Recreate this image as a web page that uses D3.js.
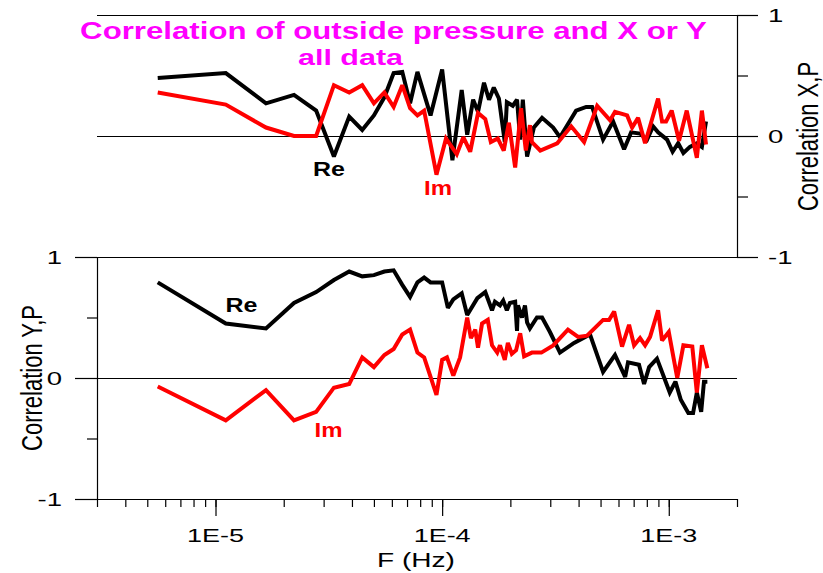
<!DOCTYPE html>
<html>
<head>
<meta charset="utf-8">
<script src="https://cdn.jsdelivr.net/npm/d3@7"></script>
<style>
  html, body { margin: 0; padding: 0; background: #fff; }
  svg { display: block; }
</style>
</head>
<body>
<svg id="chart" width="823" height="573"></svg>
<script>
// ---- Coherence spectra: outside pressure vs. X (top) and Y (bottom) ----
// Frequencies in Hz, correlation values (real and imaginary parts).

const xReFreq = [5.56e-6,1.11e-5,1.67e-5,2.22e-5,2.78e-5,3.33e-5,3.89e-5,4.44e-5,5.00e-5,5.56e-5,
  6.11e-5,6.67e-5,7.22e-5,7.78e-5,8.89e-5,1.00e-4,1.11e-4,1.22e-4,1.29e-4,1.37e-4,
  1.44e-4,1.53e-4,1.61e-4,1.69e-4,1.78e-4,1.89e-4,1.93e-4,2.05e-4,2.14e-4,2.21e-4,
  2.27e-4,2.37e-4,2.54e-4,2.76e-4,3.09e-4,3.31e-4,3.90e-4,4.32e-4,4.59e-4,5.13e-4,
  5.68e-4,6.35e-4,6.82e-4,7.47e-4,8.02e-4,8.52e-4,8.97e-4,9.83e-4,1.04e-3,1.10e-3,
  1.16e-3,1.24e-3,1.33e-3,1.40e-3,1.46e-3];
const xReVal = [0.48,0.52,0.27,0.34,0.21,-0.17,0.16,0.05,0.17,0.32,
  0.52,0.53,0.27,0.53,0.17,0.55,-0.20,0.38,0.01,0.30,
  0.20,0.44,0.30,0.40,0.31,-0.05,0.28,0.25,0.30,-0.03,
  0.30,-0.17,0.07,0.15,0.07,-0.01,0.21,0.24,0.24,-0.03,
  0.12,-0.11,0.03,0.02,-0.03,0.08,0.03,-0.03,-0.13,-0.06,
  -0.14,-0.09,-0.06,-0.09,0.12];

const xImFreq = [5.56e-6,1.11e-5,1.67e-5,2.22e-5,2.78e-5,3.33e-5,3.89e-5,4.44e-5,5.00e-5,5.56e-5,
  6.11e-5,6.67e-5,7.22e-5,7.78e-5,8.33e-5,9.44e-5,1.04e-4,1.16e-4,1.24e-4,1.33e-4,
  1.44e-4,1.55e-4,1.64e-4,1.76e-4,1.87e-4,1.97e-4,2.10e-4,2.23e-4,2.34e-4,2.44e-4,
  2.49e-4,2.71e-4,3.22e-4,3.71e-4,4.23e-4,4.83e-4,5.51e-4,5.79e-4,6.55e-4,6.89e-4,
  7.32e-4,7.86e-4,8.97e-4,9.34e-4,9.73e-4,1.03e-3,1.11e-3,1.20e-3,1.33e-3,1.40e-3,
  1.46e-3];
const xImVal = [0.36,0.26,0.07,0.00,0.00,0.42,0.36,0.42,0.27,0.36,
  0.24,0.42,0.23,0.17,0.21,-0.32,-0.02,-0.15,-0.01,-0.13,
  0.19,0.14,-0.05,-0.02,-0.12,0.11,-0.26,0.23,-0.12,0.09,
  -0.05,-0.12,-0.06,0.08,-0.05,0.25,0.13,0.20,0.17,0.07,
  0.15,-0.06,0.31,0.12,0.12,0.21,-0.04,0.21,-0.18,0.21,
  -0.07];

const yReFreq = [5.56e-6,1.11e-5,1.67e-5,2.22e-5,2.78e-5,3.33e-5,3.89e-5,4.44e-5,5.00e-5,5.56e-5,
  6.11e-5,6.67e-5,7.22e-5,7.78e-5,8.33e-5,8.89e-5,1.00e-4,1.06e-4,1.12e-4,1.22e-4,
  1.29e-4,1.43e-4,1.55e-4,1.66e-4,1.71e-4,1.80e-4,1.86e-4,1.93e-4,1.99e-4,2.10e-4,
  2.14e-4,2.16e-4,2.25e-4,2.32e-4,2.37e-4,2.44e-4,2.62e-4,2.76e-4,2.99e-4,3.31e-4,
  3.82e-4,4.49e-4,5.13e-4,5.79e-4,6.42e-4,6.61e-4,7.39e-4,7.78e-4,8.19e-4,8.87e-4,
  1.01e-3,1.07e-3,1.13e-3,1.22e-3,1.28e-3,1.33e-3,1.39e-3,1.43e-3,1.48e-3];
const yReVal = [0.79,0.45,0.41,0.62,0.71,0.81,0.88,0.84,0.85,0.88,
  0.89,0.77,0.67,0.79,0.83,0.79,0.79,0.58,0.65,0.70,
  0.52,0.66,0.71,0.56,0.63,0.60,0.64,0.56,0.62,0.63,
  0.39,0.60,0.50,0.60,0.46,0.41,0.50,0.50,0.38,0.21,
  0.29,0.36,0.05,0.19,0.01,0.13,0.11,-0.05,0.09,0.16,
  -0.12,-0.03,-0.18,-0.29,-0.29,-0.12,-0.28,-0.03,-0.03];

const yImFreq = [5.56e-6,1.11e-5,1.67e-5,2.22e-5,2.78e-5,3.33e-5,3.89e-5,4.44e-5,5.00e-5,5.56e-5,
  6.11e-5,6.67e-5,7.22e-5,7.78e-5,8.33e-5,9.44e-5,1.00e-4,1.05e-4,1.12e-4,1.20e-4,
  1.29e-4,1.34e-4,1.40e-4,1.44e-4,1.50e-4,1.59e-4,1.66e-4,1.75e-4,1.80e-4,1.89e-4,
  1.95e-4,2.03e-4,2.12e-4,2.21e-4,2.30e-4,2.49e-4,2.74e-4,3.09e-4,3.59e-4,3.98e-4,
  4.36e-4,5.13e-4,5.45e-4,5.74e-4,6.22e-4,6.68e-4,7.03e-4,7.47e-4,7.86e-4,8.27e-4,
  8.97e-4,9.34e-4,1.00e-3,1.09e-3,1.16e-3,1.27e-3,1.33e-3,1.40e-3,1.48e-3];
const yImVal = [-0.07,-0.35,-0.10,-0.35,-0.28,-0.08,-0.05,0.17,0.09,0.19,
  0.24,0.36,0.40,0.21,0.17,-0.14,0.15,0.17,0.02,0.17,
  0.50,0.33,0.40,0.25,0.45,0.48,0.27,0.21,0.27,0.15,
  0.29,0.20,0.23,0.37,0.18,0.21,0.21,0.27,0.40,0.34,
  0.35,0.48,0.48,0.55,0.26,0.44,0.27,0.33,0.27,0.34,
  0.56,0.31,0.38,0.00,0.27,0.26,-0.12,0.27,0.08];

// Axis ticks and labels
const xMajorTicks = [1e-5, 1e-4, 1e-3];
const xTickLabels = ["1E-5", "1E-4", "1E-3"];
const yMajorTicks = [-1, 0, 1];
const yMinorTicks = [-0.5, 0.5];
const yTickLabels = ["-1", "0", "1"];

const titleLine1 = "Correlation of outside pressure and X or Y";
const titleLine2 = "all data";
const xAxisTitle = "F (Hz)";
const topAxisTitle = "Correlation X,P";
const bottomAxisTitle = "Correlation Y,P";

// ---- layout ----
const FONT = "'Liberation Sans', Arial, Helvetica, sans-serif";
const RED = "#ff0000";
const MAGENTA = "#ff00ff";

const svg = d3.select("#chart");

const x = d3.scaleLog().domain([3e-6, 2e-3]).range([97, 737]);
const yTop = d3.scaleLinear().domain([-1, 1]).range([257, 15]);
const yBot = d3.scaleLinear().domain([-1, 1]).range([499, 257]);

// minor ticks on the log axis: every integer multiple within the domain
const xMinorTicks = [];
for (const dec of [1e-6, 1e-5, 1e-4, 1e-3]) {
  for (let m = 1; m <= 9; m++) {
    const v = +(m * dec).toPrecision(3);
    if (v >= 2.999e-6 && v <= 2.001e-3) xMinorTicks.push(v);
  }
}

// text helper: the lettering is horizontally stretched
function label(parent, str, px, py, o) {
  const t = parent.append("text").text(str)
    .attr("font-family", FONT)
    .attr("font-size", o.size)
    .attr("font-weight", o.weight || "normal")
    .attr("fill", o.color || "#000")
    .attr("text-anchor", o.anchor || "middle");
  let sx = o.sx || 1;
  if (o.width) sx = o.width / t.node().getComputedTextLength();
  t.attr("transform", `translate(${px},${py}) scale(${sx},1)` + (o.rotate ? ` rotate(${o.rotate})` : ""));
  return t;
}

function styleAxis(g) {
  g.attr("color", "#000");
  g.selectAll("path, line").attr("stroke-width", 1.2);
}

// ---- frame and axes ----
const frame = svg.append("g");

// top border of the upper panel and separator between panels
frame.append("line").attr("x1", 97).attr("x2", 737)
  .attr("y1", yTop(1) + 0.5).attr("y2", yTop(1) + 0.5)
  .attr("stroke", "#000").attr("stroke-width", 1.2);
frame.append("line").attr("x1", 97).attr("x2", 737)
  .attr("y1", yTop(-1) + 0.5).attr("y2", yTop(-1) + 0.5)
  .attr("stroke", "#000").attr("stroke-width", 1.2);

// zero lines
frame.append("line").attr("x1", 97).attr("x2", 737)
  .attr("y1", yTop(0) + 0.5).attr("y2", yTop(0) + 0.5)
  .attr("stroke", "#000").attr("stroke-width", 1);
frame.append("line").attr("x1", 97).attr("x2", 737)
  .attr("y1", yBot(0) + 0.5).attr("y2", yBot(0) + 0.5)
  .attr("stroke", "#000").attr("stroke-width", 1);

// upper panel: axis on the right
frame.append("g").attr("transform", "translate(737,0)")
  .call(d3.axisRight(yTop).tickValues(yMajorTicks).tickSize(21).tickSizeOuter(0).tickFormat(""))
  .call(styleAxis);
frame.append("g").attr("transform", "translate(737,0)")
  .call(d3.axisRight(yTop).tickValues(yMinorTicks).tickSize(11).tickSizeOuter(0).tickFormat(""))
  .call(g => g.select(".domain").remove())
  .call(styleAxis);

// lower panel: axis on the left
frame.append("g").attr("transform", "translate(97,0)")
  .call(d3.axisLeft(yBot).tickValues(yMajorTicks).tickSize(22).tickSizeOuter(0).tickFormat(""))
  .call(styleAxis);
frame.append("g").attr("transform", "translate(97,0)")
  .call(d3.axisLeft(yBot).tickValues(yMinorTicks).tickSize(10).tickSizeOuter(0).tickFormat(""))
  .call(g => g.select(".domain").remove())
  .call(styleAxis);

// frequency axis
frame.append("g").attr("transform", "translate(0,499)")
  .call(d3.axisBottom(x).tickValues(xMinorTicks).tickSize(8).tickSizeOuter(0).tickFormat(""))
  .call(styleAxis);
frame.append("g").attr("transform", "translate(0,499)")
  .call(d3.axisBottom(x).tickValues(xMajorTicks).tickSize(17).tickSizeOuter(0).tickFormat(""))
  .call(g => g.select(".domain").remove())
  .call(styleAxis);

// ---- tick labels ----
const labels = svg.append("g");
yMajorTicks.forEach((v, i) => {
  label(labels, yTickLabels[i], 62, yBot(v) + 7, { size: 19, anchor: "end", sx: 1.45 });
  label(labels, yTickLabels[i], 768, yTop(v) + 7, { size: 19, anchor: "start", sx: 1.45 });
});
xMajorTicks.forEach((v, i) => {
  label(labels, xTickLabels[i], x(v), 542, { size: 19, width: 57 });
});

label(labels, xAxisTitle, 416, 567, { size: 21, width: 78 });
label(labels, topAxisTitle, 818, 136.5, { size: 22, sx: 1.3, rotate: -90 });
label(labels, bottomAxisTitle, 41.5, 378, { size: 22, sx: 1.38, rotate: -90 });

// ---- series ----
const lineTop = d3.line().x(d => x(d[0])).y(d => yTop(d[1]));
const lineBot = d3.line().x(d => x(d[0])).y(d => yBot(d[1]));

function drawSeries(freq, vals, gen, color) {
  svg.append("path")
    .datum(d3.zip(freq, vals))
    .attr("d", gen)
    .attr("fill", "none")
    .attr("stroke", color)
    .attr("stroke-width", 4)
    .attr("stroke-linejoin", "miter")
    .attr("stroke-miterlimit", 2.5)
    .attr("stroke-linecap", "butt");
}

drawSeries(xReFreq, xReVal, lineTop, "#000");
drawSeries(xImFreq, xImVal, lineTop, RED);
drawSeries(yReFreq, yReVal, lineBot, "#000");
drawSeries(yImFreq, yImVal, lineBot, RED);

// ---- curve labels ----
label(svg, "Re", 329, 176, { size: 19.5, weight: "bold", width: 32 });
label(svg, "Im", 438, 195, { size: 19.5, weight: "bold", color: RED, width: 28 });
label(svg, "Re", 241.5, 312, { size: 19.5, weight: "bold", width: 32 });
label(svg, "Im", 328.5, 437, { size: 19.5, weight: "bold", color: RED, width: 28 });

// ---- title ----
label(svg, titleLine1, 393.5, 39, { size: 23.5, weight: "bold", color: MAGENTA, width: 627 });
label(svg, titleLine2, 350.5, 65, { size: 22.5, weight: "bold", color: MAGENTA, width: 105 });
</script>
</body>
</html>
